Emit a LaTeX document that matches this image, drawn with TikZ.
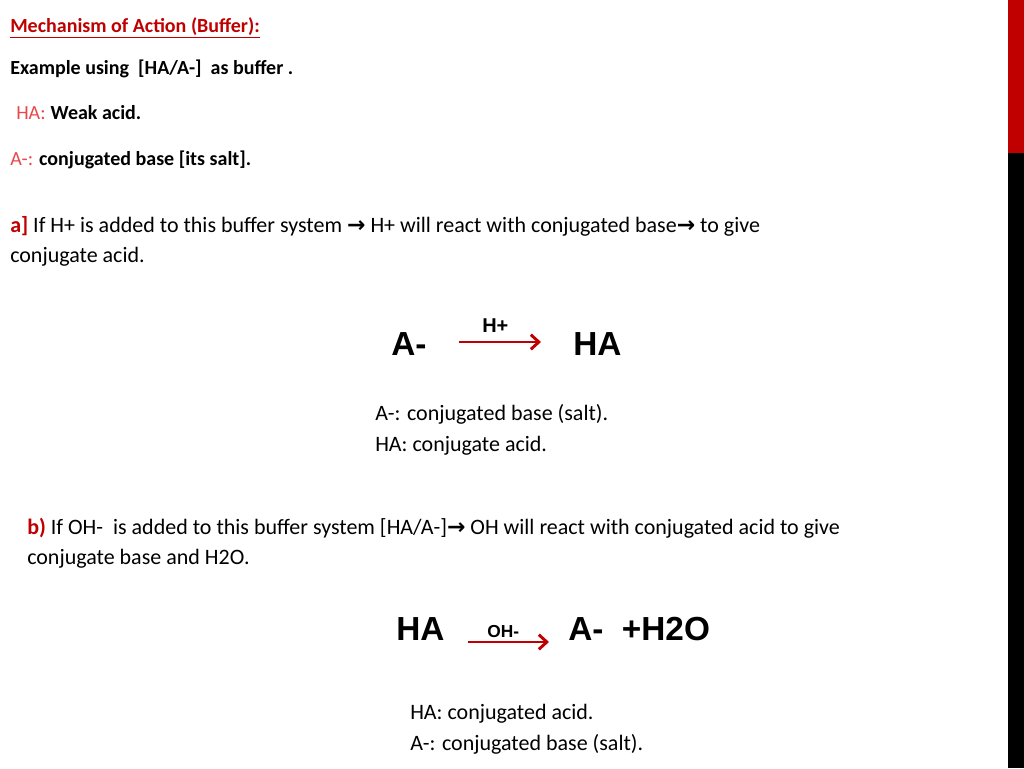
\documentclass[tikz,border=0pt]{standalone}
\usetikzlibrary{arrows.meta}
\usepackage{fontspec}
\setmainfont{Carlito}
\newfontfamily\arial{Liberation Sans}
\newfontfamily\djfont{DejaVu Sans}
\definecolor{dred}{HTML}{C00000}
\definecolor{lred}{HTML}{E8484A}
\newcommand{\myar}{{\djfont\bfseries →}}
\begin{document}
\begin{tikzpicture}[x=0.75pt,y=-0.75pt,
  t/.style={anchor=base west,inner sep=0,font=\fontsize{16.5}{20}\selectfont},
  h/.style={anchor=base west,inner sep=0,font=\fontsize{15}{18}\selectfont\bfseries},
  big/.style={anchor=base west,inner sep=0,font=\arial\bfseries\fontsize{25}{30}\selectfont},
  lab/.style={anchor=base west,inner sep=0,font=\arial\bfseries\fontsize{15}{18}\selectfont},
  rarr/.style={dred,line width=2.2pt,-{Straight Barb[length=6pt,width=11pt]}}]
\useasboundingbox (0,0) rectangle (1024,768);
\fill[white] (0,0) rectangle (1024,768);
\fill[dred] (1008,0) rectangle (1024,153);
\fill[black] (1008,153) rectangle (1024,768);
\node[h,text=dred] (t1) at (10,32) {\underline{Mechanism of Action (Buffer):}};
\node[h] (t2) at (10,74) {Example using \ [HA/A-] \ as buffer .};
\node[t] (t3) at (16,119) {\textcolor{lred}{\fontsize{15}{18}\selectfont HA:} \textbf{\fontsize{15}{18}\selectfont Weak acid.}};
\node[t] (t4) at (10,165) {\fontsize{15}{18}\selectfont\textcolor{lred}{A-:} \textbf{conjugated base [its salt].}};
\node[t] (a1) at (10,232) {\textcolor{dred}{\textbf{a]}} If H+ is added to this buffer system \myar{} H+ will react with conjugated base\myar{} to give};
\node[t] (a2) at (10,262) {conjugate acid.};
\node[big] (am) at (391,355) {A-};
\node[big] (ha) at (573,355) {HA};
\coordinate (r1s) at (459,342); \coordinate (r1e) at (541,342);
\draw[rarr] (r1s) -- (r1e);
\node[lab] (hp) at (482,332) {H+};
\node[t] (c1) at (375,420) {A-: conjugated base (salt).};
\node[t] (c2) at (375,451) {HA: conjugate acid.};
\node[t] (b1) at (27,534) {\textcolor{dred}{\textbf{b)}} If OH- \ is added to this buffer system [HA/A-]\myar{} OH will react with conjugated acid to give};
\node[t] (b2) at (27,564) {conjugate base and H2O.};
\node[big] (ha2) at (396,640) {HA};
\node[big] (am2) at (568,640) {A- \ +H2O};
\coordinate (r2s) at (468,642); \coordinate (r2e) at (549,642);
\draw[rarr] (r2s) -- (r2e);
\node[lab,font=\arial\bfseries\fontsize{13}{16}\selectfont] (oh) at (487,637) {OH-};
\node[t] (d1) at (410,719) {HA: conjugated acid.};
\node[t] (d2) at (410,750) {A-: conjugated base (salt).};
\end{tikzpicture}
\end{document}
